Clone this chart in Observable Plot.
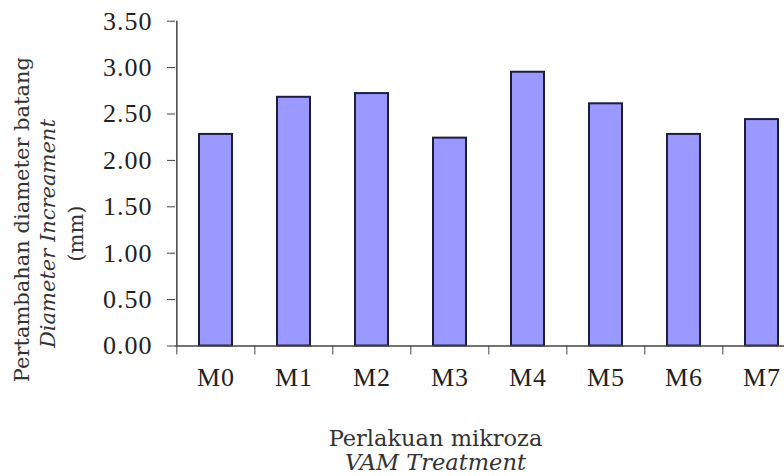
<!DOCTYPE html>
<html>
<head>
<meta charset="utf-8">
<script src="https://cdn.jsdelivr.net/npm/d3@7"></script>
<script src="https://cdn.jsdelivr.net/npm/@observablehq/plot@0.6"></script>
<style>
  html, body { margin: 0; padding: 0; background: #fff; }
  #chart [aria-label$="tick label"] text { letter-spacing: 1px; }
</style>
</head>
<body>
<div id="chart"></div>
<script>
const categories = ["M0", "M1", "M2", "M3", "M4", "M5", "M6", "M7"];
const values = [2.28, 2.68, 2.72, 2.24, 2.95, 2.61, 2.28, 2.44];
const yTicks = [0, 0.5, 1.0, 1.5, 2.0, 2.5, 3.0, 3.5];
const yTitle = ["Pertambahan diameter batang", "Diameter Increament", "(mm)"];
const xTitle = ["Perlakuan mikroza", "VAM Treatment"];

const data = categories.map((c, i) => ({cat: c, value: values[i]}));

const W = 784, H = 476;
const mL = 175, mT = 20.7, mB = 130.5;
const xRange = [175, 801.6];
const step = (xRange[1] - xRange[0]) / categories.length;
const pxPerUnit = (H - mB - mT) / 3.5;

const serif = "Liberation Serif";
const slab = "DejaVu Serif";

const chart = Plot.plot({
  width: W,
  height: H,
  marginLeft: mL,
  marginRight: 0,
  marginTop: mT,
  marginBottom: mB,
  style: {background: "white", fontFamily: serif, color: "#222"},
  x: {type: "band", domain: categories, range: xRange, paddingInner: 0.58, paddingOuter: 0.29},
  y: {domain: [0, 3.5]},
  marks: [
    Plot.barY(data, {x: "cat", y: "value", fill: "#9999ff", stroke: "#1e1e3c", strokeWidth: 2}),
    Plot.ruleY([0], {stroke: "#444", strokeWidth: 1.5}),
    Plot.ruleX([categories[0]], {dx: -step / 2, y1: 0, y2: 3.5, stroke: "#444", strokeWidth: 1.5}),
    Plot.ruleX(categories, {dx: -step / 2, y1: 0, y2: -9 / pxPerUnit, stroke: "#444", strokeWidth: 1}),
    Plot.axisY({ticks: yTicks, tickFormat: d3.format(".2f"), tickSize: 8, tickPadding: 15,
      fontSize: 26, fontFamily: serif, label: null, stroke: "#444"}),
    Plot.axisX({tickSize: 0, tickPadding: 22, fontSize: 26, fontFamily: serif, label: null}),
    Plot.text([yTitle[0]], {frameAnchor: "left", rotate: -90, textAnchor: "middle", lineAnchor: "middle",
      dx: -153, dy: 36, fontFamily: slab, fontSize: 21, fill: "#333"}),
    Plot.text([yTitle[1]], {frameAnchor: "left", rotate: -90, textAnchor: "middle", lineAnchor: "middle",
      dx: -127, dy: 50, fontFamily: slab, fontSize: 21, fontStyle: "italic", fill: "#333"}),
    Plot.text([yTitle[2]], {frameAnchor: "left", rotate: -90, textAnchor: "middle", lineAnchor: "middle",
      dx: -99, dy: 50, fontFamily: slab, fontSize: 21, fill: "#333"}),
    Plot.text([xTitle[0]], {frameAnchor: "bottom", textAnchor: "middle", lineAnchor: "middle",
      dx: -44.5, dy: 92.5, fontFamily: slab, fontSize: 22.5, fill: "#333"}),
    Plot.text([xTitle[1]], {frameAnchor: "bottom", textAnchor: "middle", lineAnchor: "middle",
      dx: -44.5, dy: 117, fontFamily: slab, fontSize: 22.5, fontStyle: "italic", fill: "#333"})
  ]
});

document.getElementById("chart").appendChild(chart);
</script>
</body>
</html>
